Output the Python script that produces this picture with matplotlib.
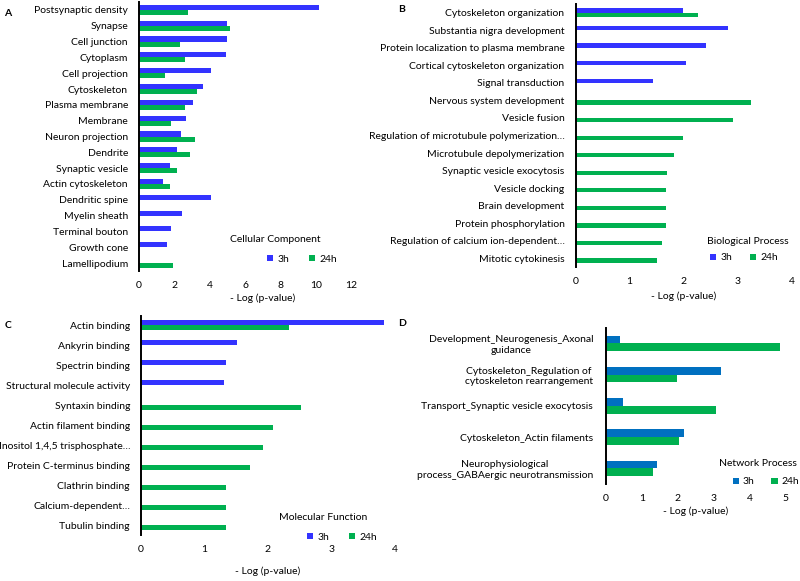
import numpy as np
import matplotlib.pyplot as plt

plt.rcParams['font.family'] = ['Lato', 'DejaVu Sans']
plt.rcParams['font.size'] = 7.5

BLUE = '#3333FF'
BLUE_D = '#0070C0'
GREEN = '#00B050'
nan = np.nan

# A - cellular component
cc_terms = ['Postsynaptic density', 'Synapse', 'Cell junction', 'Cytoplasm', 'Cell projection',
            'Cytoskeleton', 'Plasma membrane', 'Membrane', 'Neuron projection', 'Dendrite',
            'Synaptic vesicle', 'Actin cytoskeleton', 'Dendritic spine', 'Myelin sheath',
            'Terminal bouton', 'Growth cone', 'Lamellipodium']
cc_3h = [10.15, 4.99, 4.99, 4.90, 4.05, 3.63, 3.07, 2.67, 2.35, 2.17, 1.75, 1.36, 4.07, 2.45, 1.83, 1.56, nan]
cc_24h = [2.77, 5.16, 2.30, 2.62, 1.45, 3.26, 2.62, 1.81, 3.14, 2.90, 2.13, 1.75, nan, nan, nan, nan, 1.90]

# B - biological process
bp_terms = ['Cytoskeleton organization', 'Substantia nigra development',
            'Protein localization to plasma membrane', 'Cortical cytoskeleton organization',
            'Signal transduction', 'Nervous system development', 'Vesicle fusion',
            'Regulation of microtubule polymerization…', 'Microtubule depolymerization',
            'Synaptic vesicle exocytosis', 'Vesicle docking', 'Brain development',
            'Protein phosphorylation', 'Regulation of calcium ion-dependent…', 'Mitotic cytokinesis']
bp_3h = [1.99, 2.83, 2.41, 2.05, 1.44, nan, nan, nan, nan, nan, nan, nan, nan, nan, nan]
bp_24h = [2.27, nan, nan, nan, nan, 3.25, 2.92, 1.99, 1.83, 1.69, 1.68, 1.68, 1.68, 1.60, 1.50]

# C - molecular function
mf_terms = ['Actin binding', 'Ankyrin binding', 'Spectrin binding', 'Structural molecule activity',
            'Syntaxin binding', 'Actin filament binding', 'Inositol 1,4,5 trisphosphate…',
            'Protein C-terminus binding', 'Clathrin binding', 'Calcium-dependent…', 'Tubulin binding']
mf_3h = [3.83, 1.51, 1.35, 1.32, nan, nan, nan, nan, nan, nan, nan]
mf_24h = [2.33, nan, nan, nan, 2.53, 2.09, 1.93, 1.72, 1.34, 1.34, 1.34]

# D - network process
np_terms = ['Development_Neurogenesis_Axonal\nguidance',
            'Cytoskeleton_Regulation of\ncytoskeleton rearrangement',
            'Transport_Synaptic vesicle exocytosis',
            'Cytoskeleton_Actin filaments',
            'Neurophysiological\nprocess_GABAergic neurotransmission']
np_3h = [0.39, 3.21, 0.47, 2.18, 1.42]
np_24h = [4.83, 1.99, 3.07, 2.03, 1.31]

W, H = 800, 581
fig = plt.figure(figsize=(8, 5.81), dpi=100)


def px_axes(left, top, right, bottom):
    return fig.add_axes([left / W, 1 - bottom / H, (right - left) / W, (bottom - top) / H])


def fig_xy(x, y):
    return x / W, 1 - y / H


def panel(box, terms, v3, v24, xmax, ticks, bar_h, c3, title, title_xy, leg_xy, colsp,
          letter, letter_xy, ypad, xpad, lpad):
    ax = px_axes(*box)
    y = np.arange(len(terms))
    ax.barh(y - bar_h / 2, v3, height=bar_h, color=c3, label='3h')
    ax.barh(y + bar_h / 2, v24, height=bar_h, color=GREEN, label='24h')
    ax.set_yticks(y)
    ax.set_yticklabels(terms)
    for lab in ax.get_yticklabels():
        lab.set_multialignment('center')
    ax.set_ylim(len(terms) - 0.5, -0.5)
    ax.set_xlim(0, xmax)
    ax.set_xticks(ticks)
    for s in ['top', 'right', 'bottom']:
        ax.spines[s].set_visible(False)
    ax.spines['left'].set_linewidth(1.4)
    ax.tick_params(axis='y', length=0, pad=ypad)
    ax.tick_params(axis='x', length=0, pad=xpad)
    ax.set_xlabel('- Log (p-value)', labelpad=lpad)
    ax.patch.set_alpha(0)
    fig.text(*fig_xy(*title_xy), title, ha='center', va='center')
    ax.legend(ncol=2, frameon=False, loc='center', bbox_to_anchor=fig_xy(*leg_xy),
              bbox_transform=fig.transFigure, handlelength=0.6, handleheight=0.6,
              handletextpad=0.4, columnspacing=colsp, borderpad=0, borderaxespad=0)
    fig.text(*fig_xy(*letter_xy), letter, ha='center', va='center', fontweight='bold')
    return ax


panel((139, 2, 387, 271), cc_terms, cc_3h, cc_24h, 14, range(0, 13, 2), 0.32, BLUE,
      'Cellular Component', (275, 240), (302, 259), 1.9, 'A', (8, 14), 8, 7, 3)
panel((575.5, 4, 791.5, 267), bp_terms, bp_3h, bp_24h, 4, range(0, 5), 0.25, BLUE,
      'Biological Process', (748, 241), (744, 258), 1.7, 'B', (402, 10), 8, 7, 4)
panel((140.5, 315.5, 395, 535), mf_terms, mf_3h, mf_24h, 4, range(0, 5), 0.25, BLUE,
      'Molecular Function', (323, 518), (342, 537), 1.9, 'C', (8, 325), 7.5, 7, 9)
panel((605.7, 327.7, 785.7, 484), np_terms, np_3h, np_24h, 5, range(0, 6), 0.25, BLUE_D,
      'Network Process', (758, 464), (766, 482), 1.6, 'D', (402, 324), 9, 7, 3)

fig.savefig('out.png', dpi=100)
